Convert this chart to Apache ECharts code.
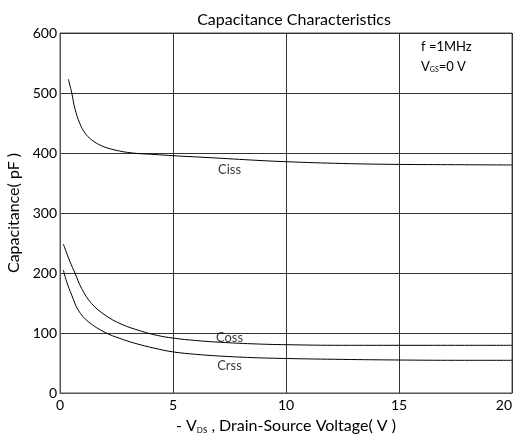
<!DOCTYPE html>
<html><head><meta charset="utf-8">
<script src="https://cdn.jsdelivr.net/npm/echarts@6/dist/echarts.min.js"></script>
<style>html,body{margin:0;padding:0;background:#fff}#c{width:517px;height:434px}</style>
</head><body><div id="c"></div>
<script>
const cissV = [0.37, 0.52, 0.66, 0.88, 1.11, 1.40, 1.84, 2.43, 3.2, 4.2, 5, 6.5, 8.85, 10, 12.5, 15, 17.5, 20];
const cissC = [523, 500, 474, 449, 433, 422, 412, 405, 400, 397.5, 395.5, 392.5, 387.5, 385.5, 382.5, 381, 380.5, 380];
const cossV = [0.15, 0.44, 0.66, 0.96, 1.40, 1.99, 2.7, 3.6, 4.3, 5, 6, 7.1, 8.5, 10, 12.5, 15, 17.5, 20];
const cossC = [248, 219, 200, 174, 149, 130, 115, 103, 96, 91.5, 87.5, 84.5, 82, 80.5, 79.5, 79.5, 79.5, 79.5];
const crssV = [0.15, 0.29, 0.52, 0.81, 1.25, 1.99, 2.65, 3.3, 4.2, 5, 6, 7.1, 8.5, 10, 12.5, 15, 17.5, 20];
const crssC = [205, 186, 163, 138, 119, 101, 91, 83, 74.5, 68.5, 64.5, 61.5, 59, 57.5, 56, 55, 54.5, 54.5];
const xTicks = [0, 5, 10, 15, 20];
const yTicks = [0, 100, 200, 300, 400, 500, 600];
const seriesLabels = [
  {name: 'Ciss', at: [7.5, 372]},
  {name: 'Coss', at: [7.5, 92]},
  {name: 'Crss', at: [7.5, 45]}
];
const FONT = 'Lato, "Open Sans", sans-serif';
const pair = (xs, ys) => xs.map((x, i) => [x, ys[i]]);
const lineSeries = (name, d) => ({
  name, type: 'line', data: d, smooth: 0.4, symbol: 'none',
  lineStyle: {color: '#000', width: 1}, z: 3
});
const chart = echarts.init(document.getElementById('c'));
chart.setOption({
  animation: false,
  title: {text: 'Capacitance Characteristics', left: 289, top: 7, textAlign: 'center',
    textStyle: {fontFamily: FONT, fontSize: 16, fontWeight: 'normal', color: '#000'}},
  grid: {left: 60, right: 5, top: 33, bottom: 41, show: true, borderColor: '#555', borderWidth: 1,
    outerBoundsMode: 'none', containLabel: false},
  xAxis: {type: 'value', min: xTicks[0], max: xTicks[xTicks.length - 1], interval: 5,
    axisLine: {lineStyle: {color: '#555'}}, axisTick: {show: false},
    splitLine: {lineStyle: {color: '#333', width: 1}},
    axisLabel: {color: '#000', fontFamily: FONT, fontSize: 14, margin: 5, alignMaxLabel: 'right'},
    name: '{a|- V}{s|DS}{a| , Drain-Source Voltage( V )}', nameLocation: 'middle', nameGap: 25,
    nameTextStyle: {rich: {a: {fontFamily: FONT, fontSize: 16, color: '#000'},
      s: {fontFamily: FONT, fontSize: 8, color: '#000', verticalAlign: 'bottom', padding: [6, 0, 0, 0]}}}
  },
  yAxis: {type: 'value', min: yTicks[0], max: yTicks[yTicks.length - 1], interval: 100,
    axisLine: {show: true, lineStyle: {color: '#555'}}, axisTick: {show: false},
    splitLine: {lineStyle: {color: '#333', width: 1}},
    axisLabel: {color: '#000', fontFamily: FONT, fontSize: 14, margin: 3},
    name: 'Capacitance( pF )', nameLocation: 'middle', nameGap: 38,
    nameTextStyle: {fontFamily: FONT, fontSize: 16, color: '#000'}
  },
  graphic: [
    {type: 'text', left: 421, top: 40, style: {text: 'f =1MHz', font: '13px ' + FONT, fill: '#000'}},
    {type: 'text', left: 421, top: 60, style: {
      text: '{a|V}{s|GS}{a|=0 V}',
      rich: {a: {fontFamily: FONT, fontSize: 13, fill: '#000'},
             s: {fontFamily: FONT, fontSize: 7, fill: '#000', verticalAlign: 'bottom', padding: [4, 0, 0, 0]}}}}
  ],
  series: [
    lineSeries('Ciss', pair(cissV, cissC)),
    lineSeries('Coss', pair(cossV, cossC)),
    lineSeries('Crss', pair(crssV, crssC)),
    {type: 'scatter', symbolSize: 0, silent: true, z: 4,
      data: seriesLabels.map(l => ({value: l.at, name: l.name})),
      label: {show: true, position: 'inside', formatter: p => p.name,
        fontFamily: FONT, fontSize: 13, color: '#000'}}
  ]
});
</script></body></html>
